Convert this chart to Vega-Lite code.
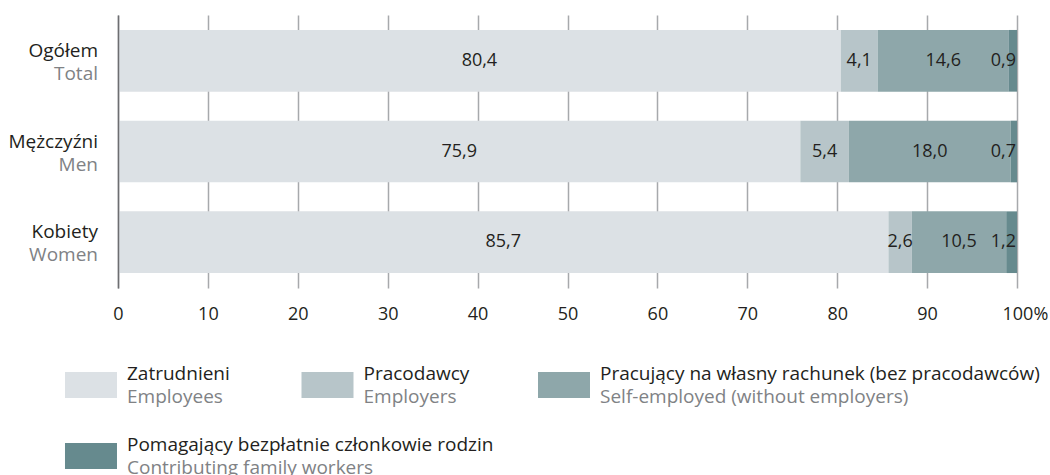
{
  "$schema": "https://vega.github.io/schema/vega-lite/v6.json",
  "padding": {"left": 8, "top": 15, "right": 0, "bottom": 0},
  "background": "white",
  "config": {
    "font": "Open Sans",
    "view": {"stroke": null},
    "locale": {"number": {"decimal": ",", "thousands": " ", "grouping": [3], "currency": ["", " zł"]}}
  },
  "datasets": {
    "bars": [
      {"grp": "Ogółem", "cat": "Zatrudnieni", "k": 1, "v": 80.4},
      {"grp": "Ogółem", "cat": "Pracodawcy", "k": 2, "v": 4.1},
      {"grp": "Ogółem", "cat": "Pracujący na własny rachunek", "k": 3, "v": 14.6},
      {"grp": "Ogółem", "cat": "Pomagający członkowie rodzin", "k": 4, "v": 0.9},
      {"grp": "Mężczyźni", "cat": "Zatrudnieni", "k": 1, "v": 75.9},
      {"grp": "Mężczyźni", "cat": "Pracodawcy", "k": 2, "v": 5.4},
      {"grp": "Mężczyźni", "cat": "Pracujący na własny rachunek", "k": 3, "v": 18.0},
      {"grp": "Mężczyźni", "cat": "Pomagający członkowie rodzin", "k": 4, "v": 0.7},
      {"grp": "Kobiety", "cat": "Zatrudnieni", "k": 1, "v": 85.7},
      {"grp": "Kobiety", "cat": "Pracodawcy", "k": 2, "v": 2.6},
      {"grp": "Kobiety", "cat": "Pracujący na własny rachunek", "k": 3, "v": 10.5},
      {"grp": "Kobiety", "cat": "Pomagający członkowie rodzin", "k": 4, "v": 1.2}
    ],
    "rows": [
      {"grp": "Ogółem", "en": "Total"},
      {"grp": "Mężczyźni", "en": "Men"},
      {"grp": "Kobiety", "en": "Women"}
    ],
    "leg": [
      {"cat": "Zatrudnieni", "pl": "Zatrudnieni", "en": "Employees", "col": 0, "row": 0},
      {"cat": "Pracodawcy", "pl": "Pracodawcy", "en": "Employers", "col": 1, "row": 0},
      {"cat": "Pracujący na własny rachunek", "pl": "Pracujący na własny rachunek (bez pracodawców)", "en": "Self-employed (without employers)", "col": 2, "row": 0},
      {"cat": "Pomagający członkowie rodzin", "pl": "Pomagający bezpłatnie członkowie rodzin", "en": "Contributing family workers", "col": 0, "row": 1}
    ]
  },
  "spacing": 42,
  "vconcat": [
    {
      "width": 899,
      "height": 273,
      "encoding": {
        "y": {
          "field": "grp", "type": "nominal",
          "sort": ["Ogółem", "Mężczyźni", "Kobiety"],
          "scale": {"paddingInner": 0.32, "paddingOuter": 0.165},
          "axis": {"labels": false, "ticks": false, "title": null, "domain": true, "domainColor": "#6d6e71", "domainWidth": 1.5, "grid": false, "zindex": 1}
        }
      },
      "layer": [
        {
          "data": {"name": "bars"},
          "mark": {"type": "bar"},
          "encoding": {
            "x": {
              "field": "v", "type": "quantitative", "stack": "zero",
              "scale": {"domain": [0, 100], "nice": false},
              "axis": {
                "values": [0, 10, 20, 30, 40, 50, 60, 70, 80, 90, 100],
                "title": null, "domain": false, "ticks": false,
                "grid": true, "gridColor": "#a7a9ac", "gridWidth": 1.5,
                "labelFontSize": 18, "labelColor": "#231f20", "labelPadding": 17,
                "labelExpr": "datum.value == 100 ? '100%' : datum.label",
                "labelAlign": {"condition": {"test": "datum.value == 100", "value": "left"}, "value": "center"},
                "labelOffset": {"condition": {"test": "datum.value == 100", "value": -15}, "value": 0}
              }
            },
            "color": {
              "field": "cat", "type": "nominal",
              "scale": {
                "domain": ["Zatrudnieni", "Pracodawcy", "Pracujący na własny rachunek", "Pomagający członkowie rodzin"],
                "range": ["#dce1e5", "#b7c5c9", "#8ea7aa", "#668a8e"]
              },
              "legend": null
            },
            "order": {"field": "k"}
          }
        },
        {
          "data": {"name": "bars"},
          "mark": {"type": "text", "fontSize": 18, "color": "#231f20", "baseline": "middle"},
          "encoding": {
            "x": {"field": "v", "type": "quantitative", "stack": "zero", "bandPosition": 0.5},
            "text": {"field": "v", "type": "quantitative", "format": ".1f", "condition": {"test": "datum.k == 4", "value": ""}},
            "detail": {"field": "cat"},
            "order": {"field": "k"}
          }
        },
        {
          "data": {"name": "bars"},
          "mark": {"type": "text", "fontSize": 18, "color": "#231f20", "baseline": "middle", "align": "right", "dx": -1},
          "encoding": {
            "x": {"field": "v", "type": "quantitative", "stack": "zero"},
            "text": {"field": "v", "type": "quantitative", "format": ".1f", "condition": {"test": "datum.k != 4", "value": ""}},
            "detail": {"field": "cat"},
            "order": {"field": "k"}
          }
        },
        {
          "data": {"name": "rows"},
          "mark": {"type": "text", "fontSize": 19, "color": "#231f20", "baseline": "middle", "align": "right", "dx": -20, "dy": -10},
          "encoding": {
            "x": {"datum": 0, "type": "quantitative"},
            "text": {"field": "grp"}
          }
        },
        {
          "data": {"name": "rows"},
          "mark": {"type": "text", "fontSize": 19, "color": "#808285", "baseline": "middle", "align": "right", "dx": -20, "dy": 13},
          "encoding": {
            "x": {"datum": 0, "type": "quantitative"},
            "text": {"field": "en"}
          }
        }
      ]
    },
    {
      "width": 446,
      "height": 71,
      "data": {"name": "leg"},
      "encoding": {
        "x": {"field": "col", "type": "quantitative", "scale": {"domain": [0.1142, 2], "zero": false, "nice": false}, "axis": null},
        "y": {"field": "row", "type": "quantitative", "scale": {"domain": [0, 1], "reverse": true, "nice": false}, "axis": null}
      },
      "layer": [
        {
          "mark": {"type": "point", "filled": true, "opacity": 1, "shape": "M-1,-0.5H1V0.5H-1Z", "size": 2704},
          "encoding": {
            "color": {
              "field": "cat", "type": "nominal",
              "scale": {
                "domain": ["Zatrudnieni", "Pracodawcy", "Pracujący na własny rachunek", "Pomagający członkowie rodzin"],
                "range": ["#dce1e5", "#b7c5c9", "#8ea7aa", "#668a8e"]
              },
              "legend": null
            }
          }
        },
        {
          "mark": {"type": "text", "align": "left", "baseline": "middle", "dx": 36, "dy": -11, "fontSize": 19, "color": "#231f20"},
          "encoding": {"text": {"field": "pl"}}
        },
        {
          "mark": {"type": "text", "align": "left", "baseline": "middle", "dx": 36, "dy": 12, "fontSize": 19, "color": "#808285"},
          "encoding": {"text": {"field": "en"}}
        }
      ]
    }
  ]
}
